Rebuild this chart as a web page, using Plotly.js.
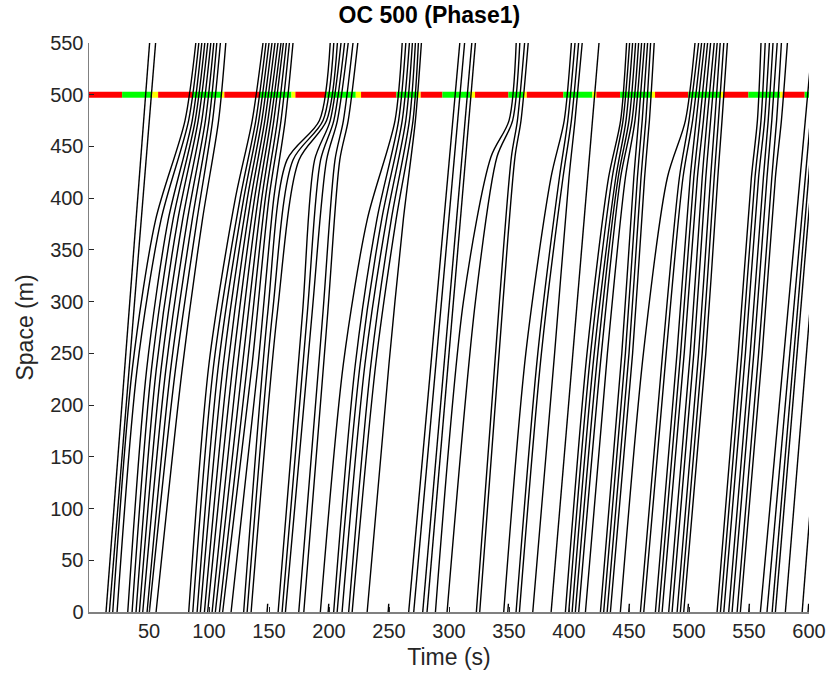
<!DOCTYPE html>
<html><head><meta charset="utf-8">
<script src="https://cdn.plot.ly/plotly-3.0.1.min.js"></script>
<style>body{margin:0;background:#fff}#chart{width:837px;height:677px}</style>
</head><body><div id="chart"></div>
<script>
// ---- Signal at the stop line (500 m) ----
const sigSpace = 500;
const sigStart = [0, 27.6, 52.6, 57.6, 86.2, 110.3, 112.8, 141.7, 168.7, 172, 197.8, 222.3, 226.7, 256.2, 274.2, 276.4, 294.5, 317.6, 321.7, 349.5, 362, 364.8, 395.3, 419.5, 422.8, 442.6, 468.9, 471.7, 499.5, 525.9, 528.7, 549.5, 575.9, 578.1, 596.4];
const sigEnd   = [27.6, 52.6, 57.6, 86.2, 110.3, 112.8, 141.7, 168.7, 172, 197.8, 222.3, 226.7, 256.2, 274.2, 276.4, 294.5, 317.6, 321.7, 349.5, 362, 364.8, 395.3, 419.5, 422.8, 442.6, 468.9, 471.7, 499.5, 525.9, 528.7, 549.5, 575.9, 578.1, 596.4, 600];
const sigState = ['R','G','Y','R','G','Y','R','G','Y','R','G','Y','R','G','Y','R','G','Y','R','G','Y','R','G','Y','R','G','Y','R','G','Y','R','G','Y','R','G'];

// ---- Vehicle trajectories: each row = times (s) at the positions of its space grid ----
const freeSpace = [0, 550];
const freeTimes = [[14.2, 50.5], [17, 55.5], [266.4, 309], [270.6, 313], [278.1, 319], [281.7, 322], [385.1, 425]];

const spaceA = [0, 234, 379, 475, 550];
const timesA = [
  [19.8, 36, 55.5, 80, 89], [23.4, 40, 60, 83, 91.5], [32.3, 48, 66, 86, 94], [35.9, 52, 70, 88.5, 96.5],
  [39.2, 56, 74, 91, 99], [42, 60, 78, 94, 101.5], [44.8, 64, 82, 97, 104], [48.4, 68, 86, 100, 106.5],
  [50.3, 72, 90, 103, 109.5], [55.9, 77.6, 94.5, 108, 114]];

const spaceB = [0, 240, 400, 475, 550];
const timesB = [
  [83.1, 100, 122, 136, 145], [86.5, 104, 126, 139, 147.5], [90.1, 108, 129, 141.5, 150], [92.8, 112, 132, 144, 152.5],
  [96.2, 116, 135, 146.5, 155], [98.9, 120, 138, 149, 157.5], [102.6, 124, 141, 151.5, 160], [105.3, 128, 144, 154, 162],
  [108.7, 132, 147, 157, 164.5], [111.4, 136, 150, 160, 167], [118.4, 141, 154, 163.5, 170]];

const spaceC = [0, 290, 437, 475, 550];
const timesC = [
  [128.9, 149, 165, 192, 201], [131.8, 153, 170, 195, 204], [135.1, 157, 175, 198, 207], [157.6, 178, 188, 201, 210],
  [160.9, 182, 193, 204, 213], [163.7, 186, 198, 207, 216], [174.8, 195, 205, 212, 220], [179, 199, 209, 216, 224]];

const spaceD = [0, 240, 380, 475, 550];
const timesD = [
  [192.8, 212, 232, 255, 261], [203.9, 222, 240, 258, 264], [206.8, 226, 244, 261, 267], [210.9, 230, 248, 264, 269.5],
  [216.4, 235, 252, 267, 272], [219.3, 239, 256, 270, 274.5], [231.8, 250, 262, 272, 277]];

const spaceE = [0, 300, 440, 475, 550];
const timesE = [[288.7, 312, 335, 350, 356], [298.4, 322, 340, 353, 359], [322.8, 342, 352, 357, 363], [325.6, 345, 355, 360, 366]];

const spaceF = [0, 250, 420, 475, 550];
const timesF = [[345.6, 364, 385, 396, 402], [355.9, 374, 392, 399, 405], [358.7, 377, 395, 402, 408], [369.8, 388, 400, 405, 411]];

const spaceG = [0, 250, 420, 475, 550];
const timesG = [
  [397, 415, 433, 443, 448], [399.8, 418, 436, 445, 450.5], [402.6, 421, 439, 447.5, 453], [405.3, 424, 441, 450, 455.5],
  [408.1, 427, 443, 452.5, 458], [413.7, 432, 447, 455, 460.5], [426.2, 444, 454, 458, 463], [428.9, 447, 457, 461, 465.5],
  [431.8, 450, 460, 464, 468], [434.5, 453, 463, 467, 471]];

const spaceH = [0, 250, 420, 475, 550];
const timesH = [
  [442.8, 462, 482, 497, 505], [459.5, 478, 492, 500, 508], [462.3, 481, 495, 503, 510.5], [472, 490, 501, 506, 513],
  [474.8, 493, 504, 509, 515.5], [477.6, 496, 507, 512, 518], [483.1, 501, 511, 515, 521], [485.9, 504, 514, 518, 523.5],
  [490.1, 508, 518, 521.5, 526], [492.8, 511, 521, 524.5, 529], [495.6, 514, 524, 527.5, 532]];

const spaceK = [0, 250, 420, 475, 550];
const timesK = [
  [523.4, 541, 552, 557, 560], [526.2, 544, 555, 560, 563.5], [529, 547, 558, 563, 567], [533.1, 551, 562, 566, 570],
  [535.9, 554, 565, 569, 573.5], [540.1, 558, 569, 573, 577], [542.8, 561, 572, 577, 582]];

// vehicles still on the road at t = 600 s (cut by the time axis)
const spaceL = [0, 550];
const timesL = [[559.5, 602.8], [565, 606.8], [569.3, 609.1], [572, 611.7], [580.3, 619], [594.3, 631.6]];

// short stubs at the entry point
const spaceS = [0, 8];
const timesS = [[148.4, 148.9], [199.3, 199.8], [249.3, 249.8], [349, 349.5], [449.8, 450.3], [499, 499.5], [549.8, 550.3], [599.2, 599.7]];

const groups = [[freeSpace, freeTimes], [spaceA, timesA], [spaceB, timesB], [spaceC, timesC], [spaceD, timesD],
  [spaceE, timesE], [spaceF, timesF], [spaceG, timesG], [spaceH, timesH], [spaceK, timesK], [spaceL, timesL], [spaceS, timesS]];

const sigColors = {R: '#ff0000', G: '#00ff00', Y: '#ffff00'};
const traces = [];
for (let i = 0; i < sigStart.length; i++) {
  traces.push({x: [sigStart[i], sigEnd[i]], y: [sigSpace, sigSpace], mode: 'lines',
    line: {color: sigColors[sigState[i]], width: 6}, hoverinfo: 'skip', showlegend: false});
}
for (const [sp, rows] of groups) {
  for (const row of rows) {
    traces.push({x: row, y: sp, mode: 'lines', line: {color: '#000', width: 1.4, shape: 'spline', smoothing: 0.8},
      hoverinfo: 'skip', showlegend: false});
  }
}

const fam = 'Liberation Sans, Arial, Helvetica, sans-serif';
const axisFont = {family: fam, size: 20, color: '#262626'};
const layout = {
  width: 837, height: 677,
  margin: {l: 89, r: 28, t: 43, b: 65},
  paper_bgcolor: '#fff', plot_bgcolor: '#fff',
  title: {text: '<b>OC 500 (Phase1)</b>', x: 0.513, xanchor: 'center', y: 0.99, yanchor: 'top',
    font: {family: fam, size: 23, color: '#000'}},
  xaxis: {range: [0, 600], tickvals: [50,100,150,200,250,300,350,400,450,500,550,600],
    ticks: 'inside', ticklen: 5, tickcolor: '#262626', showline: true, linecolor: '#808080', linewidth: 1.5,
    showgrid: false, zeroline: false, tickfont: axisFont,
    title: {text: 'Time (s)', font: {family: fam, size: 23, color: '#262626'}, standoff: 8}},
  yaxis: {range: [0, 550], tickvals: [0,50,100,150,200,250,300,350,400,450,500,550],
    ticks: 'inside', ticklen: 5, tickcolor: '#262626', showline: true, linecolor: '#808080', linewidth: 1.5,
    showgrid: false, zeroline: false, tickfont: axisFont,
    title: {text: 'Space (m)', font: {family: fam, size: 23, color: '#262626'}, standoff: 10}}
};
Plotly.newPlot('chart', traces, layout, {displayModeBar: false, staticPlot: true});
</script></body></html>
